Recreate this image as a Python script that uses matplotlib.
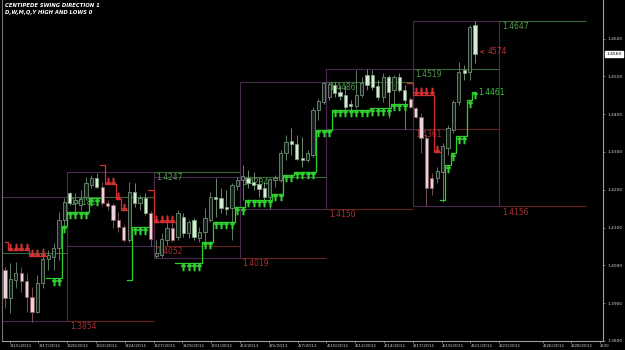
import numpy as np
import pandas as pd
import matplotlib.pyplot as plt
from matplotlib.patches import Rectangle

# 8-hour EUR/USD bars (price units)
opens = [1.3988, 1.3913, 1.3961, 1.3980, 1.3959, 1.3916, 1.3876, 1.3953, 1.4017, 1.4022,
         1.4046, 1.4120, 1.4191, 1.4165, 1.4160, 1.4181, 1.4212, 1.4231, 1.4207, 1.4165,
         1.4160, 1.4120, 1.4101, 1.4067, 1.4194, 1.4165, 1.4178, 1.4138, 1.4024, 1.4027,
         1.4067, 1.4099, 1.4075, 1.4128, 1.4085, 1.4120, 1.4072, 1.4088, 1.4120, 1.4181,
         1.4178, 1.4154, 1.4152, 1.4210, 1.4226, 1.4231, 1.4220, 1.4215, 1.4205, 1.4181,
         1.4226, 1.4226, 1.4297, 1.4329, 1.4321, 1.4284, 1.4279, 1.4292, 1.4411, 1.4432,
         1.4445, 1.4477, 1.4459, 1.4451, 1.4427, 1.4422, 1.4451, 1.4504, 1.4504, 1.4474,
         1.4445, 1.4498, 1.4464, 1.4498, 1.4464, 1.4440, 1.4416, 1.4393, 1.4337, 1.4231,
         1.4231, 1.4247, 1.4310, 1.4358, 1.4432, 1.4517, 1.4511, 1.4636]
highs = [1.3995, 1.4006, 1.4009, 1.3995, 1.3980, 1.3943, 1.3974, 1.4046, 1.4040, 1.4059,
         1.4141, 1.4178, 1.4194, 1.4191, 1.4199, 1.4234, 1.4239, 1.4244, 1.4220, 1.4173,
         1.4165, 1.4141, 1.4107, 1.4220, 1.4218, 1.4186, 1.4191, 1.4144, 1.4067, 1.4085,
         1.4133, 1.4128, 1.4146, 1.4138, 1.4120, 1.4125, 1.4101, 1.4152, 1.4194, 1.4231,
         1.4205, 1.4199, 1.4218, 1.4234, 1.4265, 1.4252, 1.4247, 1.4234, 1.4220, 1.4231,
         1.4239, 1.4305, 1.4345, 1.4363, 1.4345, 1.4340, 1.4305, 1.4419, 1.4440, 1.4486,
         1.4485, 1.4485, 1.4477, 1.4477, 1.4437, 1.4517, 1.4498, 1.4519, 1.4517, 1.4490,
         1.4509, 1.4504, 1.4504, 1.4509, 1.4477, 1.4445, 1.4419, 1.4403, 1.4345, 1.4244,
         1.4260, 1.4324, 1.4371, 1.4437, 1.4538, 1.4530, 1.4636, 1.4647]
lows = [1.3887, 1.3874, 1.3940, 1.3929, 1.3876, 1.3850, 1.3874, 1.3940, 1.3988, 1.3988,
        1.4014, 1.4088, 1.4160, 1.4133, 1.4146, 1.4173, 1.4205, 1.4205, 1.4157, 1.4146,
        1.4099, 1.4088, 1.4062, 1.4062, 1.4154, 1.4146, 1.4133, 1.4052, 1.4019, 1.4022,
        1.4054, 1.4062, 1.4067, 1.4075, 1.4072, 1.4067, 1.4062, 1.4062, 1.4115, 1.4128,
        1.4138, 1.4133, 1.4067, 1.4199, 1.4173, 1.4205, 1.4199, 1.4181, 1.4173, 1.4150,
        1.4207, 1.4220, 1.4279, 1.4292, 1.4279, 1.4260, 1.4273, 1.4287, 1.4385, 1.4427,
        1.4437, 1.4445, 1.4437, 1.4411, 1.4403, 1.4416, 1.4445, 1.4464, 1.4464, 1.4437,
        1.4432, 1.4390, 1.4416, 1.4459, 1.4361, 1.4416, 1.4390, 1.4297, 1.4156, 1.4186,
        1.4218, 1.4167, 1.4292, 1.4350, 1.4424, 1.4490, 1.4490, 1.4535]
closes = [1.3913, 1.3964, 1.3980, 1.3959, 1.3916, 1.3876, 1.3953, 1.4017, 1.4027, 1.4046,
          1.4120, 1.4167, 1.4165, 1.4173, 1.4175, 1.4218, 1.4231, 1.4207, 1.4165, 1.4157,
          1.4120, 1.4101, 1.4067, 1.4194, 1.4165, 1.4178, 1.4138, 1.4070, 1.4033, 1.4070,
          1.4099, 1.4067, 1.4138, 1.4085, 1.4115, 1.4075, 1.4088, 1.4125, 1.4181, 1.4175,
          1.4152, 1.4149, 1.4212, 1.4226, 1.4236, 1.4218, 1.4212, 1.4202, 1.4181, 1.4228,
          1.4231, 1.4297, 1.4326, 1.4321, 1.4281, 1.4279, 1.4297, 1.4411, 1.4435, 1.4482,
          1.4480, 1.4456, 1.4448, 1.4419, 1.4422, 1.4451, 1.4482, 1.4477, 1.4472, 1.4445,
          1.4498, 1.4459, 1.4498, 1.4464, 1.4437, 1.4419, 1.4393, 1.4337, 1.4205, 1.4205,
          1.4250, 1.4316, 1.4363, 1.4432, 1.4511, 1.4509, 1.4631, 1.4559]

nan = np.nan
# centipede swing levels (green = up swing support, red = down swing resistance)
green_level = [nan] * 8 + [1.3966] * 3 + [1.4104] + [1.4141] * 4 + [1.4178] * 2 \
    + [nan] * 5 + [1.3961] + [1.4101] * 3 + [nan] * 5 \
    + [1.4006] * 5 + [1.4062] * 2 + [1.4115] * 4 + [1.4154] * 2 + [1.4173] * 5 \
    + [1.4189] * 2 + [1.4239] * 2 + [1.4247] * 4 + [1.4358] * 3 + [1.4411] * 7 \
    + [1.4416] * 4 + [1.4427] * 3 + [nan] * 6 \
    + [1.4173, 1.4265, 1.4297, 1.4342, 1.4342, 1.4437, 1.4459]
red_level = [1.4062] + [1.4040] * 4 + [1.4025] * 3 + [nan] * 10 \
    + [1.4265, 1.4215, 1.4215, 1.4175, 1.4146] + [nan] * 4 \
    + [1.4199] + [1.4115] * 4 + [nan] * 43 \
    + [1.4482] + [1.4451] * 4 + [1.4300] + [nan] * 7

# weekly high / low levels
week_start = ['2011-03-06', '2011-03-13', '2011-03-20', '2011-03-27',
              '2011-04-03', '2011-04-10', '2011-04-17']
week_high = [1.4033, 1.4181, 1.4247, 1.4234, 1.4486, 1.4519, 1.4647]
week_low = [nan, 1.3854, 1.4052, 1.4019, 1.4150, 1.4361, 1.4156]

date_ticks = ['2011-03-15', '2011-03-17', '2011-03-20', '2011-03-22', '2011-03-24',
              '2011-03-27', '2011-03-29', '2011-03-31', '2011-04-03', '2011-04-05',
              '2011-04-07', '2011-04-10', '2011-04-12', '2011-04-14', '2011-04-17',
              '2011-04-19', '2011-04-21', '2011-04-23', '2011-04-26', '2011-04-28',
              '2011-04-30']
price_ticks = [1.38, 1.39, 1.40, 1.41, 1.42, 1.43, 1.44, 1.45, 1.46]
last_price = 1.4560


def bar_pos(d):
    # 16 bars per Sun-Fri week, first full week starts at bar 11.5;
    # past the last bar the platform spaces calendar days evenly
    d = pd.Timestamp(d)
    future = pd.Timestamp('2011-04-23')
    if d > future:
        return bar_pos(future) + (d - future).days * 16 / 6
    days = (d - pd.Timestamp('2011-03-20')).days
    wk, dow = divmod(days, 7)
    return 11.5 + wk * 16 + dow * 16 / 6


o, h, l, c = (np.array(a) for a in (opens, highs, lows, closes))
green = np.array(green_level)
red = np.array(red_level)
x = np.arange(len(o))
x_lo, x_hi = -0.56, 110.7

fig = plt.figure(figsize=(6.25, 3.5), dpi=100, facecolor='black')
ax = fig.add_axes([2 / 625, 9 / 350, 601 / 625, 341 / 350])
ax.set_facecolor('black')
ax.set_xlim(x_lo, x_hi)
ax.set_ylim(1.3800, 1.4702)

# weekly boxes and previous-week high/low lines
starts = [bar_pos(d) for d in week_start]
for k in range(1, len(starts)):
    ax.add_patch(Rectangle((starts[k], week_low[k]), 16, week_high[k] - week_low[k],
                           fill=False, edgecolor='#4a2a4e', lw=0.8, zorder=1))
for k in range(len(starts)):
    s = starts[k] + 16
    ax.hlines(week_high[k], s, s + 16, color='#3a683a', lw=0.8, zorder=1)
    if s < x_lo:
        continue
    ax.text(s + 0.5, week_high[k] - 0.0003, f'{week_high[k]:.4f}', color='#4f9a4f',
            fontsize=5.5, va='top', ha='left', zorder=2)
    if not np.isnan(week_low[k]):
        ax.hlines(week_low[k], s, s + 16, color='#6b2424', lw=0.8, zorder=1)
        ax.text(s + 0.5, week_low[k] - 0.0003, f'{week_low[k]:.4f}', color='#a83030',
                fontsize=5.5, va='top', ha='left', zorder=2)

# candles
for i in x:
    if c[i] >= o[i]:
        face, edge = '#16201a', '#6f8f75'
    elif not np.isnan(red[i]):
        face, edge = '#ecd3da', '#8a5a62'
    else:
        face, edge = '#d4ecd4', '#7f9f7f'
    ax.vlines(i, l[i], h[i], color=edge, lw=0.6, zorder=3)
    ax.add_patch(Rectangle((i - 0.3, min(o[i], c[i])), 0.6, max(abs(c[i] - o[i]), 0.00008),
                           facecolor=face, edgecolor=edge, lw=0.6, zorder=4))

# centipede lines with legs
for lev, col, mk, off in ((green, '#2fcf2f', r'$\uparrow$', -0.0009),
                          (red, '#d03030', r'$\downarrow$', 0.0009)):
    ax.plot(x, lev, drawstyle='steps-mid', color=col, lw=0.9, zorder=5)
    prev = np.concatenate([[nan], lev[:-1]])
    legs = ~np.isnan(lev) & ~np.isnan(prev)
    ax.plot(x[legs], lev[legs] + off, ls='none', marker=mk, ms=4.5, color=col, zorder=5)

ax.text(x[-1] + 0.6, green[-1] - 0.0002, '1.4461', color='#3fbf3f', fontsize=5.5,
        va='center', ha='left', zorder=6)
ax.annotate('4574', xy=(x[-1] + 0.4, c[-1] + 0.0006), xytext=(x[-1] + 2.3, c[-1] + 0.0006),
            color='#c03030', fontsize=5.5, va='center', ha='left',
            arrowprops=dict(arrowstyle='->', color='#c03030', lw=0.6), zorder=6)

# axes styling
ax.spines['top'].set_visible(False)
ax.spines['left'].set_color('#707070')
ax.spines['right'].set_color('#a0a0a0')
ax.spines['bottom'].set_color('#a0a0a0')
for s in ('left', 'right', 'bottom'):
    ax.spines[s].set_linewidth(0.8)

ax.yaxis.tick_right()
ax.set_yticks(price_ticks)
ax.set_yticklabels([f'{p:.4f}' for p in price_ticks])
ax.tick_params(axis='y', colors='#a0a0a0', labelcolor='#d0d0d0', labelsize=3.2,
               length=1.5, width=0.5, pad=1.5)
ax.set_xticks([bar_pos(d) for d in date_ticks])
labels = [f'{pd.Timestamp(d).month}/{pd.Timestamp(d).day}/2011' for d in date_ticks]
labels[-1] = labels[-1][:4]
ax.set_xticklabels(labels, ha='left')
ax.tick_params(axis='x', colors='#a0a0a0', labelcolor='#d0d0d0', labelsize=3.2,
               length=1.5, width=0.5, pad=0.5)

ax.annotate(f'{last_price:.4f}', xy=(1.0, last_price), xycoords=('axes fraction', 'data'),
            xytext=(2.5, 0), textcoords='offset points', fontsize=3.2, color='black',
            va='center', ha='left', annotation_clip=False,
            bbox=dict(boxstyle='square,pad=0.25', fc='white', ec='white'))

fig.text(5 / 625, 1 - 3 / 350, 'CENTIPEDE SWING DIRECTION 1', color='white', fontsize=3.8,
         fontweight='bold', fontstyle='italic', va='top')
fig.text(5 / 625, 1 - 10 / 350, 'D,W,M,Q,Y HIGH AND LOWS 0', color='white', fontsize=3.8,
         fontweight='bold', fontstyle='italic', va='top')

fig.savefig('out.png', dpi=100, facecolor='black')
